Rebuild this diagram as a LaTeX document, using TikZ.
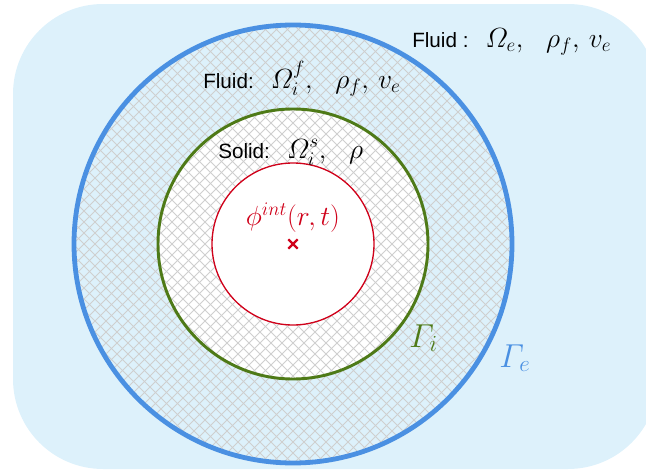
\documentclass[tikz,border=0pt]{standalone}
\usepackage{amsmath,amssymb}
\usepackage{fontspec}
\newfontfamily\labelfont{Liberation Sans}
\usetikzlibrary{positioning, shapes.misc}
\definecolor{skybg}{HTML}{DDF1FB}
\definecolor{hatchgray}{HTML}{CFCFCF}
\definecolor{ringblue}{HTML}{4A90E2}
\definecolor{ringgreen}{HTML}{4E7A17}
\definecolor{corered}{HTML}{D0021B}
\tikzset{
  bgregion/.style={fill=skybg, rounded corners=67.5pt},
  hatchline/.style={draw=hatchgray, line width=0.55pt},
  outerring/.style={draw=ringblue, line width=3.6pt},
  innerring/.style={draw=ringgreen, line width=2.2pt},
  corering/.style={draw=corered, line width=1pt},
  regionlbl/.style={anchor=base west, inner sep=0pt, font=\fontsize{22.5}{24}\selectfont},
  gammalbl/.style={anchor=base west, inner sep=0pt, font=\fontsize{25}{28}\selectfont}
}
\newcommand{\sanslbl}[1]{{\labelfont\fontsize{15.5}{18}\selectfont #1}}

\begin{document}
\begin{tikzpicture}[x=0.75pt, y=-0.75pt]
\useasboundingbox (0,0) rectangle (646,471);
\clip (0,0) rectangle (646,471);
% Background region
\fill[bgregion] (13,4) rectangle (658,469);
\coordinate (c) at (293,244);

% Solid region (white), hatched together with the fluid ring
\fill[white] (c) circle[radius=101.25pt];
\begin{scope}
  \clip (c) circle[radius=164.25pt];
  \foreach \k in {-44,...,44} {
    \draw[hatchline] (293+11*\k-240, 4) -- (293+11*\k+240, 484);
    \draw[hatchline] (293+11*\k-240, 484) -- (293+11*\k+240, 4);
  }
\end{scope}
\fill[white] (c) circle[radius=60.75pt];

% Boundaries
\draw[outerring] (c) circle[radius=164.25pt];
\draw[innerring] (c) circle[radius=101.25pt];
\draw[corering] (c) circle[radius=60.75pt];

% Labels
\node[regionlbl] (fl_e) at (412,47) {\sanslbl{Fluid :}\, $\varOmega_e,\ \ \rho_f,\, v_e$};
\node[regionlbl] (fl_i) at (203,88) {\sanslbl{Fluid:}\, $\varOmega_i^f,\ \ \rho_f,\, v_e$};
\node[regionlbl] (sol) at (218,158) {\sanslbl{Solid:}\, $\varOmega_i^s,\ \ \rho$};
\node[cross out, draw=corered, line width=1.6pt, minimum size=5.5pt, inner sep=0pt] (ctr) at (c) {};
\node[inner sep=0pt, text=corered, font=\fontsize{19.5}{22}\selectfont, above=5pt of ctr] (phi_t) {$\phi^{int}(r,t)$};
\node[gammalbl, text=ringgreen] (gi) at (409,347) {$\varGamma_i$};
\node[gammalbl, text=ringblue] (ge) at (499,367) {$\varGamma_e$};
\end{tikzpicture}
\end{document}
